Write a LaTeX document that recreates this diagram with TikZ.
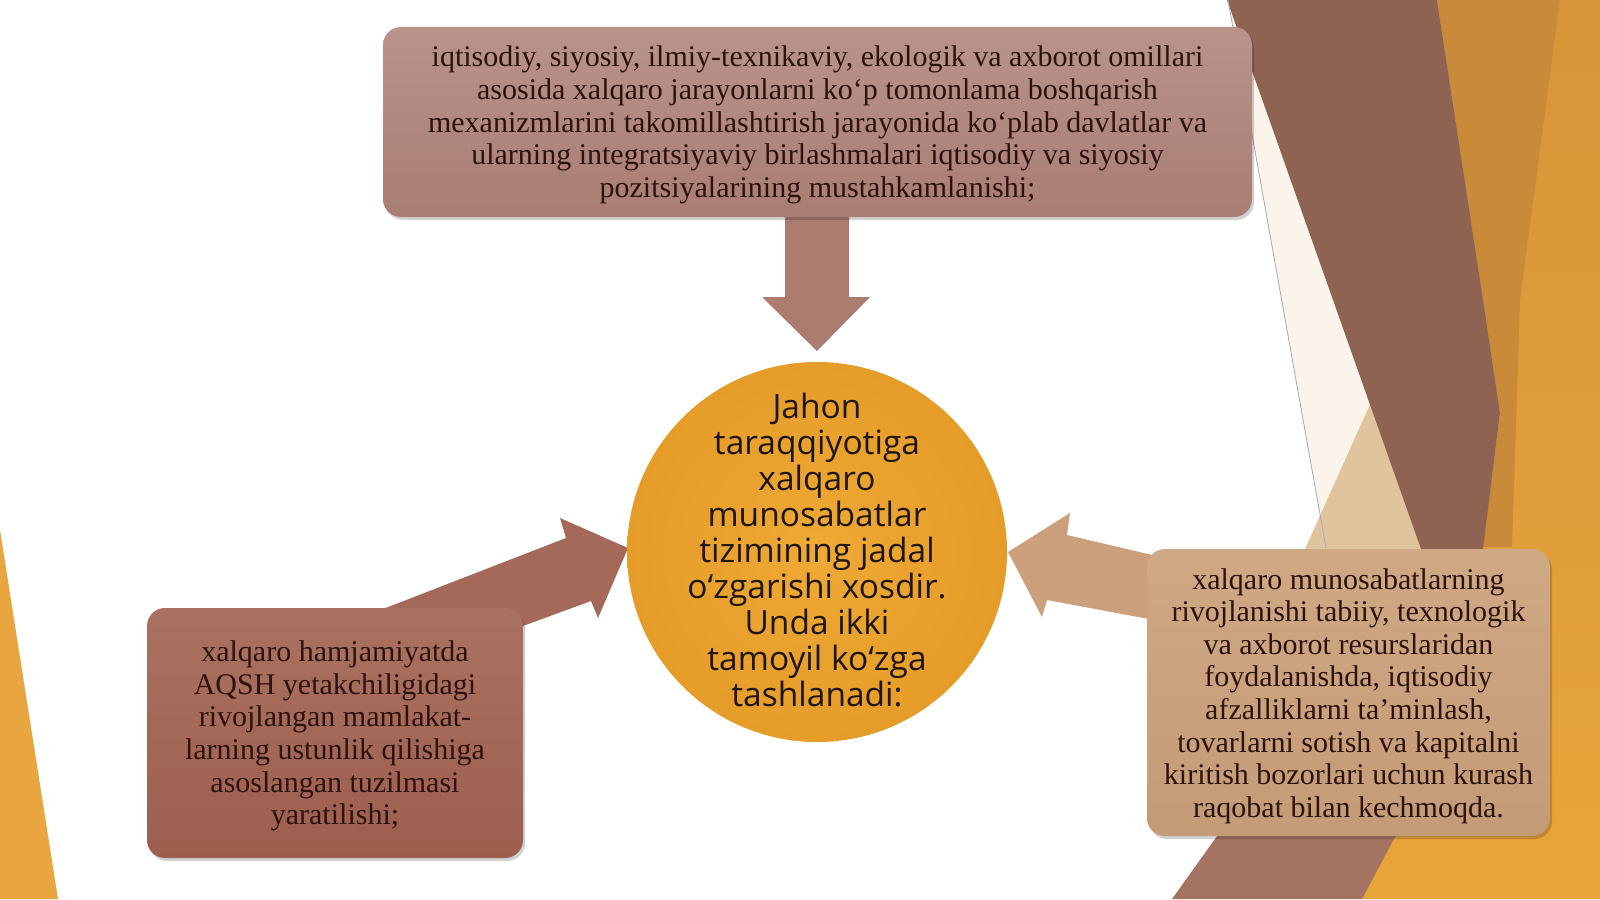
\documentclass[tikz,border=0pt]{standalone}
\usepackage{fontspec}
\setmainfont{Liberation Serif}
\newfontfamily\circfont{Open Sans}
\usetikzlibrary{shadows}
\definecolor{txtdark}{HTML}{2D120C}
\definecolor{circtxt}{HTML}{1E1614}
\definecolor{topA}{HTML}{B8948D}
\definecolor{topB}{HTML}{A97D72}
\definecolor{leftA}{HTML}{AA7262}
\definecolor{leftB}{HTML}{9D5E4E}
\definecolor{rightA}{HTML}{CFA884}
\definecolor{rightB}{HTML}{C49B77}
\definecolor{arrowTop}{HTML}{AD7C70}
\definecolor{arrowLeft}{HTML}{A5695A}
\definecolor{arrowRight}{HTML}{CCA07C}
\definecolor{circIn}{HTML}{EFA935}
\definecolor{circOut}{HTML}{E69C28}
\definecolor{bgBrown}{HTML}{8E6351}
\definecolor{bgBrownLow}{HTML}{A57361}
\definecolor{bgCream}{HTML}{FAF4EA}
\definecolor{bgTan}{HTML}{E0C49E}
\definecolor{bgOrA}{HTML}{D69639}
\definecolor{bgOrB}{HTML}{E8A53A}
\definecolor{bgOrDark}{HTML}{C98A3A}
\definecolor{bgLine}{HTML}{A9A9B8}
\definecolor{triOrange}{HTML}{E8A540}
\tikzset{
  textbox/.style={rounded corners=18pt, minimum width=#1, inner sep=0pt, align=center,
    text=txtdark, font=\fontsize{30}{32.6}\selectfont,
    drop shadow={shadow xshift=2pt, shadow yshift=-3pt, opacity=0.18, fill=black}},
  circtext/.style={align=center, inner sep=0pt, text=circtxt, font=\circfont\fontsize{33.5}{36}\selectfont},
  boxtext/.style={align=center, inner sep=0pt, text=txtdark, font=\fontsize{30}{32.6}\selectfont}
}
\begin{document}
\begin{tikzpicture}[x=1pt,y=-1pt]
\useasboundingbox (0,0) rectangle (1600,899);
\fill[white] (0,0) rectangle (1600,899);
% ---- background decoration ----
\fill[triOrange] (0,530) -- (58,899) -- (0,899) -- cycle;
\shade[top color=bgOrA, bottom color=bgOrB] (1437,0) -- (1600,0) -- (1600,899) -- (1362,899) -- (1483,547) -- (1500,413) -- cycle;
\fill[bgOrDark] (1437,0) -- (1560,0) -- (1520,300) -- (1512,547) -- (1483,547) -- (1500,413) -- cycle;
\fill[bgCream] (1228,0) -- (1326,548) -- (1421,548) -- cycle;
\fill[bgTan] (1372,400) -- (1421,549) -- (1305,549) -- cycle;
\fill[bgBrown] (1227,0) -- (1437,0) -- (1483,300) -- (1500,413) -- (1483,549) -- (1421,549) -- cycle;
\draw[bgLine, line width=0.8pt] (1228,0) -- (1326,548);
\fill[bgBrownLow] (1250,790) -- (1420,790) -- (1362,899) -- (1172,899) -- cycle;
% ---- block arrows ----
\fill[arrowTop] (785,200) -- (849,200) -- (849,297) -- (870,297) -- (817,351) -- (762,297) -- (785,297) -- cycle;
\fill[arrowLeft] (628,548) -- (560,518) -- (566,538) -- (383,609) -- (470,660) -- (523,626) -- (591,601) -- (598,618) -- cycle;
\fill[arrowRight] (1008,552) -- (1070,513) -- (1067,535) -- (1165,558) -- (1165,622) -- (1047,600) -- (1042,617) -- cycle;
% ---- centre circle ----
\node[circle, minimum size=380pt, inner sep=0pt, inner color=circIn, outer color=circOut] (c) at (817,552) {};
\node[circtext] (ct) at (817,550) {Jahon\\taraqqiyotiga\\xalqaro\\munosabatlar\\tizimining jadal\\o‘zgarishi xosdir.\\Unda ikki\\tamoyil ko‘zga\\tashlanadi:};
% ---- text boxes ----
\node[textbox=869pt, minimum height=190pt, top color=topA, bottom color=topB] (top) at (817.5,122) {};
\node[boxtext] (toptxt) at (817.5,125)
 {iqtisodiy, siyosiy, ilmiy-texnikaviy, ekologik va axborot omillari\\asosida xalqaro jarayonlarni ko‘p tomonlama boshqarish\\mexanizmlarini takomillashtirish jarayonida ko‘plab davlatlar va\\ularning integratsiyaviy birlashmalari iqtisodiy va siyosiy\\pozitsiyalarining mustahkamlanishi;};
\node[textbox=376pt, minimum height=250pt, top color=leftA, bottom color=leftB] (lb) at (335,733) {};
\node[boxtext] (lbtxt) at (335,736)
 {xalqaro hamjamiyatda\\AQSH yetakchiligidagi\\rivojlangan mamlakat-\\larning ustunlik qilishiga\\asoslangan tuzilmasi\\yaratilishi;};
\node[textbox=403pt, minimum height=287pt, top color=rightA, bottom color=rightB] (rb) at (1348.5,692.5) {};
\node[boxtext] (rbtxt) at (1348.5,696)
 {xalqaro munosabatlarning\\rivojlanishi tabiiy, texnologik\\va axborot resurslaridan\\foydalanishda, iqtisodiy\\afzalliklarni ta’minlash,\\tovarlarni sotish va kapitalni\\kiritish bozorlari uchun kurash\\raqobat bilan kechmoqda.};
\end{tikzpicture}
\end{document}
